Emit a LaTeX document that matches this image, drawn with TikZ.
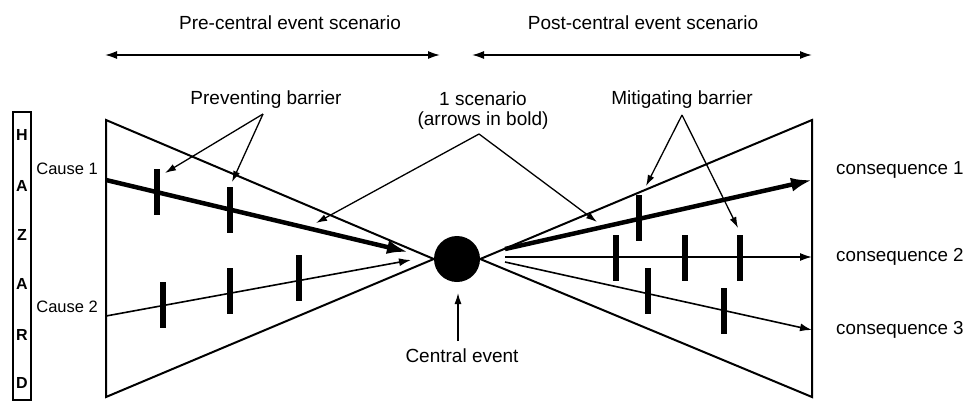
\documentclass[tikz,border=0pt]{standalone}
\usepackage{fontspec}
\setmainfont{Liberation Sans}
\usetikzlibrary{arrows,arrows.meta,shapes}
\tikzstyle{label}=[font=\fontsize{19}{22}\selectfont,inner sep=0pt]
\tikzstyle{cause}=[label,font=\fontsize{16.5}{20}\selectfont]
\tikzstyle{outcome}=[label,font=\fontsize{18.8}{22}\selectfont]
\tikzstyle{letter}=[label,font=\fontsize{16}{20}\selectfont\bfseries]
\tikzstyle{arrow} = [draw,line width=1.6pt,-{Latex[length=12pt,width=8pt]}]
\tikzstyle{double arrow} = [draw,line width=1.6pt,{Latex[length=12pt,width=8pt]}-{Latex[length=12pt,width=8pt]}]
\tikzstyle{bold arrow} = [draw,line width=4.5pt,-{Latex[length=21pt,width=14pt]}]
\tikzstyle{barrier} = [fill=black,minimum width=6pt,minimum height=46pt,inner sep=0pt]
\tikzstyle{wedge} = [draw,line width=2pt,line join=miter]

\begin{document}
\begin{tikzpicture}[x=1pt,y=-1pt]
   \useasboundingbox (0,0) rectangle (968,400);
   % hazard column
   \node[draw,line width=1.3pt,minimum width=18pt,minimum height=288pt,inner sep=0pt] (hazard) at (22,256) {};
   \foreach \ypos/\name/\letter in {135/h/H,186/a1/A,235/z/Z,284/a2/A,335/r/R,383/d/D}
        \node[letter] (\name) at (22,\ypos) {\letter};
   % central event and the two wedges
   \node[circle,fill=black,minimum size=46pt,inner sep=0pt] (ev) at (457,259) {};
   \coordinate (ltop) at (106,120);
   \coordinate (lbot) at (106,397);
   \coordinate (rtop) at (812,120);
   \coordinate (rbot) at (812,397);
   \draw[wedge] (ltop) -- (ev.west) -- (lbot) -- cycle;
   \draw[wedge] (rtop) -- (ev.east) -- (rbot) -- cycle;
   % scenario headings
   \node[label] (pre) at (290,23) {Pre-central event scenario};
   \node[label] (post) at (643,23) {Post-central event scenario};
   \coordinate (pre l) at (105,55);
   \coordinate (pre r) at (440,55);
   \coordinate (post l) at (472,55);
   \coordinate (post r) at (812,55);
   \path[double arrow] (pre l) -- (pre r);
   \path[double arrow] (post l) -- (post r);
   % causes
   \node[cause,anchor=east] (cause1) at (98,169) {Cause 1};
   \node[cause,anchor=east] (cause2) at (98,307) {Cause 2};
   \coordinate (c1 start) at (106,180);
   \coordinate (c1 end) at (408,252);
   \coordinate (c2 start) at (106,316);
   \coordinate (c2 end) at (411,260);
   \path[bold arrow] (c1 start) -- (c1 end);
   \path[arrow] (c2 start) -- (c2 end);
   % consequences
   \node[outcome,anchor=west] (cons1) at (836,170) {consequence 1};
   \node[outcome,anchor=west] (cons2) at (836,257) {consequence 2};
   \node[outcome,anchor=west] (cons3) at (836,330) {consequence 3};
   \coordinate (q1 start) at (505,249);
   \coordinate (q1 end) at (812,180);
   \coordinate (q2 start) at (505,257);
   \coordinate (q2 end) at (812,257);
   \coordinate (q3 start) at (505,262);
   \coordinate (q3 end) at (812,330);
   \path[bold arrow] (q1 start) -- (q1 end);
   \path[arrow] (q2 start) -- (q2 end);
   \path[arrow] (q3 start) -- (q3 end);
   % barriers
   \foreach \pos/\name in {{(157,192)/p1}, {(230,210)/p2}, {(163,305)/p3}, {(230,291)/p4}, {(299,278)/p5},
        {(639,218)/m1}, {(616,258)/m2}, {(685,258)/m3}, {(740,258)/m4}, {(648,291)/m5}, {(724,311)/m6}}
        \node[barrier] (\name) at \pos {};
   % annotations
   \node[label] (prev) at (266,100) {Preventing barrier};
   \node[label] (scen) at (483,99) {1 scenario};
   \node[label] (bold) at (483,121) {(arrows in bold)};
   \node[label] (miti) at (682,100) {Mitigating barrier};
   \node[label] (cent) at (462,356) {Central event};
   \coordinate (prev o) at (263,114);
   \coordinate (scen o) at (479,134);
   \coordinate (miti o) at (682,115);
   \coordinate (cent o) at (458,341);
   \coordinate (to p1) at (165,173);
   \coordinate (to p2) at (232,182);
   \coordinate (to c1) at (316,223);
   \coordinate (to q1) at (597,222);
   \coordinate (to m1) at (646,186);
   \coordinate (to m4) at (738,228);
   \coordinate (to ev) at (458,293);
   \foreach \source/\dest in {prev o/to p1, prev o/to p2, scen o/to c1, scen o/to q1,
        miti o/to m1, miti o/to m4, cent o/to ev}
        \path[arrow,line width=1.3pt,-{Latex[length=11pt,width=7pt]}] (\source) -- (\dest);
\end{tikzpicture}
\end{document}
